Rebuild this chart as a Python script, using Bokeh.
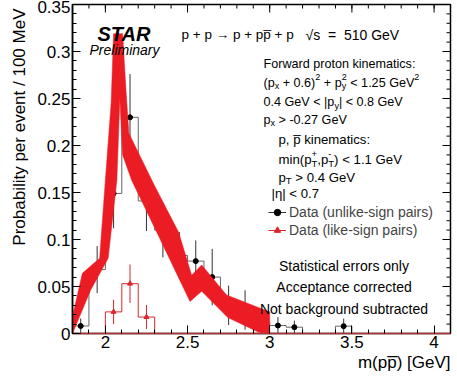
import numpy as np
from bokeh.plotting import figure
from bokeh.models import Label, Legend, LegendItem, LinearAxis, FixedTicker, Title
from bokeh.embed import file_html
from bokeh.resources import INLINE

# ---------------- data ----------------
bin_centers = [1.85, 1.95, 2.05, 2.15, 2.25, 2.35, 2.45, 2.55, 2.65, 2.75, 2.85, 2.95,
               3.05, 3.15, 3.25, 3.35, 3.45, 3.55, 3.65, 3.75, 3.85, 3.95, 4.05]
unlike_vals = [0.008, 0.068, 0.149, 0.230, 0.141, 0.110, 0.083, 0.077, 0.060, 0.030, 0.025, 0.012,
               0.0085, 0.0067, 0.0, 0.0, 0.0078, 0.0, 0.0, 0.0, 0.0, 0.0, 0.0]
unlike_errs = [0.008, 0.025, 0.037, 0.046, 0.032, 0.029, 0.025, 0.022, 0.030, 0.021, 0.021, 0.012,
               0.009, 0.007, 0.0, 0.0, 0.008, 0.0, 0.0, 0.0, 0.0, 0.0, 0.0]
like_vals = [0.0, 0.0, 0.023, 0.053, 0.0175, 0.0, 0.0, 0.0, 0.0, 0.0, 0.0, 0.0,
             0.0, 0.0, 0.0, 0.0, 0.0, 0.0, 0.0, 0.0, 0.0, 0.0, 0.0]
like_errs = [0.0, 0.0, 0.013, 0.0205, 0.0128, 0.0, 0.0, 0.0, 0.0, 0.0, 0.0, 0.0,
             0.0, 0.0, 0.0, 0.0, 0.0, 0.0, 0.0, 0.0, 0.0, 0.0, 0.0]

# red band outline: upper edge (left->right), lower edge (right->left)
band_upper_x = [1.80, 1.86, 1.965, 2.00, 2.035, 2.05, 2.105, 2.125, 2.143,
                2.30, 2.445, 2.525, 2.586, 2.737, 3.00]
band_upper_y = [0.018, 0.064, 0.080, 0.163, 0.245, 0.319, 0.319, 0.26, 0.213,
                0.157, 0.108, 0.062, 0.073, 0.041, 0.023]
band_lower_x = [3.00, 2.93, 2.745, 2.586, 2.515, 2.315, 2.16, 2.105, 2.088, 2.07, 2.017,
                1.91, 1.80]
band_lower_y = [0.0, 0.0015, 0.017, 0.045, 0.034, 0.107, 0.163, 0.19, 0.25, 0.163, 0.080,
                0.046, 0.0]

x_ticks = [2.0, 2.5, 3.0, 3.5, 4.0]
x_tick_labels = ["2", "2.5", "3", "3.5", "4"]
y_ticks = [0.0, 0.05, 0.1, 0.15, 0.2, 0.25, 0.3, 0.35]
y_tick_labels = ["0", "0.05", "0.1", "0.15", "0.2", "0.25", "0.3", "0.35"]

# ---------------- figure ----------------
X0, X1, Y0, Y1 = 1.8, 4.1, 0.0, 0.35
FL, FT, FW, FH = 72, 4, 378, 329

p = figure(frame_width=FW, frame_height=FH, x_range=(X0, X1), y_range=(Y0, Y1),
           output_backend="svg", toolbar_location=None,
           min_border_left=FL, min_border_top=FT, min_border_right=7, min_border_bottom=45,
           x_axis_type=None, y_axis_type=None)
p.grid.visible = False
p.outline_line_color = "black"
p.outline_line_width = 1.5
p.background_fill_color = "white"
p.border_fill_color = "white"

x_minor = [round(1.8 + 0.1 * i, 2) for i in range(24)]
y_minor = [round(0.01 * i, 2) for i in range(36)]
xt = FixedTicker(ticks=x_ticks, minor_ticks=x_minor)
yt = FixedTicker(ticks=y_ticks, minor_ticks=y_minor)

def make_axis(ticker, labels, ticks, line_color="black"):
    return LinearAxis(ticker=ticker, major_tick_in=8, major_tick_out=0,
                      minor_tick_in=4, minor_tick_out=0,
                      axis_line_color=line_color, axis_line_width=1.5,
                      major_tick_line_color="black", minor_tick_line_color="black",
                      major_label_overrides={t: s for t, s in zip(ticks, labels)},
                      major_label_text_font="Liberation Sans",
                      major_label_text_font_size="17px",
                      major_label_text_color="black", major_label_standoff=2)

bax = make_axis(xt, x_tick_labels, x_ticks, line_color="#b03030")
lax = make_axis(yt, y_tick_labels, y_ticks)
p.add_layout(bax, "below")
p.add_layout(lax, "left")

# mirrored inside ticks on the top and right edges
px_x = (X1 - X0) / FW
px_y = (Y1 - Y0) / FH
for tks, ln in ((x_ticks, 8), (x_minor, 4)):
    p.segment(x0=tks, y0=[Y1] * len(tks), x1=tks, y1=[Y1 - ln * px_y] * len(tks),
              line_color="black", line_width=1)
for tks, ln in ((y_ticks, 8), (y_minor, 4)):
    p.segment(x0=[X1] * len(tks), y0=tks, x1=[X1 - ln * px_x] * len(tks), y1=tks,
              line_color="black", line_width=1)

# axis titles
ytitle = Title(text="Probability per event / 100 MeV", align="right", offset=4,
               text_font="Liberation Sans", text_font_size="17px", text_font_style="normal",
               text_color="black", standoff=12)
p.add_layout(ytitle, "left")
xtitle = Title(text="m(pp\u0305) [GeV]", align="right",
               text_font="Liberation Sans", text_font_size="17px", text_font_style="normal",
               text_color="black", standoff=0)
p.add_layout(xtitle, "below")

# ---------------- histograms ----------------
centers = np.array(bin_centers)
edges = np.append(centers - 0.05, centers[-1] + 0.05)
uv = np.array(unlike_vals); ue = np.array(unlike_errs)
lv = np.array(like_vals); le = np.array(like_errs)

p.step(edges, np.append(uv, uv[-1]), mode="after", line_color="#666666", line_width=1)
nz = uv > 0
r_ue = p.segment(x0=centers[nz], y0=(uv - ue)[nz], x1=centers[nz], y1=(uv + ue)[nz],
                 line_color="#333333", line_width=1)
r_up = p.scatter(centers[nz], uv[nz], marker="circle", size=5, fill_color="black", line_color="black")

# theory band
p.patch(band_upper_x + band_lower_x, band_upper_y + band_lower_y,
        fill_color="#ec1c24", line_color="#ec1c24", line_width=0.5)

p.step(edges, np.append(lv, lv[-1]), mode="after", line_color="#d9272e", line_width=1)
nzl = lv > 0
r_le = p.segment(x0=centers[nzl], y0=(lv - le)[nzl], x1=centers[nzl], y1=(lv + le)[nzl],
                 line_color="#d9272e", line_width=1)
r_lp = p.scatter(centers[nzl], lv[nzl], marker="triangle", size=5, fill_color="#d9272e", line_color="#d9272e")

legend = Legend(items=[LegendItem(label="Data (unlike-sign pairs)", renderers=[r_ue, r_up]),
                       LegendItem(label="Data (like-sign pairs)", renderers=[r_le, r_lp])],
                location=(196, 95), label_text_font="Liberation Sans", label_text_font_size="14px",
                glyph_width=18, glyph_height=16, label_height=16, spacing=2, padding=0, margin=0,
                label_standoff=3, background_fill_alpha=0, border_line_color=None)
p.add_layout(legend)

# ---------------- texts ----------------
FONT = "Liberation Sans"
NB = "\u00a0"
W = {' ': 278, NB: 278, '(': 333, ')': 333, '+': 584, ',': 278, '-': 333, '.': 278, '/': 278, ':': 278,
     '<': 584, '=': 584, '>': 584, '[': 278, ']': 278, '|': 260, '\u0305': 0, '\u2192': 1000,
     '\u221a': 549, '\u03b7': 556,
     'a': 556, 'b': 556, 'c': 500, 'd': 556, 'e': 556, 'f': 278, 'g': 556, 'h': 556, 'i': 222,
     'k': 500, 'l': 222, 'm': 833, 'n': 556, 'o': 556, 'p': 556, 'r': 333, 's': 500, 't': 278,
     'u': 556, 'v': 500, 'w': 722, 'x': 500, 'y': 500,
     'A': 667, 'C': 722, 'D': 722, 'F': 611, 'G': 778, 'M': 833, 'N': 722, 'P': 667, 'S': 667,
     'T': 611, 'V': 667}

def tw(s, size):
    return sum(W.get(c, 556) for c in s) * size / 1000.0

def X(px):
    return X0 + (X1 - X0) * (px - FL) / FW

def Y(py):
    return Y1 * (FT + FH - py) / FH

def put(px, py, text, size, style="normal", align="left", baseline="alphabetic"):
    text = text.replace(" ", NB)
    p.add_layout(Label(x=X(px), y=Y(py), text=text, text_font=FONT, text_font_size=f"{size}px",
                       text_font_style=style, text_align=align, text_baseline=baseline,
                       text_color="black"))

def rich(px, py, parts, size):
    x = px
    s2 = size * 0.72
    for part in parts:
        kind = part[0]
        if kind == "n":
            put(x, py, part[1], size); x += tw(part[1], size)
        elif kind == "sub":
            put(x, py + 0.3 * size, part[1], s2); x += tw(part[1], s2)
        elif kind == "sup":
            put(x, py - 0.45 * size, part[1], s2); x += tw(part[1], s2)
        elif kind == "ss":
            put(x, py - 0.45 * size, part[1], s2)
            put(x, py + 0.3 * size, part[2], s2)
            x += max(tw(part[1], s2), tw(part[2], s2))

put(97, 33, "STAR", 20, style="bold italic")
put(89, 49, "Preliminary", 14, style="italic")
put(181, 34, "p + p \u2192 p + pp\u0305 + p", 13.5)
put(305, 34, "\u221as  =  510 GeV", 14)

s1 = 12.6
put(263, 63, "Forward proton kinematics:", s1)
rich(263, 82, [("n", "(p"), ("sub", "x"), ("n", " + 0.6)"), ("sup", "2"), ("n", " + p"),
               ("ss", "2", "y"), ("n", " < 1.25 GeV"), ("sup", "2")], s1)
rich(263, 101.5, [("n", "0.4 GeV < |p"), ("sub", "y"), ("n", "| < 0.8 GeV")], s1)
rich(263, 119, [("n", "p"), ("sub", "x"), ("n", " > -0.27 GeV")], s1)

s2 = 13.2
put(278, 139, "p, p\u0305 kinematics:", s2)
rich(278, 159, [("n", "min(p"), ("ss", "+", "T"), ("n", ",p"), ("ss", "-", "T"),
                ("n", ") < 1.1 GeV")], s2)
rich(278, 176.5, [("n", "p"), ("sub", "T"), ("n", " > 0.4 GeV")], s2)
put(271, 192.5, "|\u03b7| < 0.7", s2)

put(343.5, 265, "Statistical errors only", 14, align="center")
put(343.5, 286.5, "Acceptance corrected", 14, align="center")
put(343.5, 308, "Not background subtracted", 14, align="center")

open("out.html", "w").write(file_html(p, INLINE))
